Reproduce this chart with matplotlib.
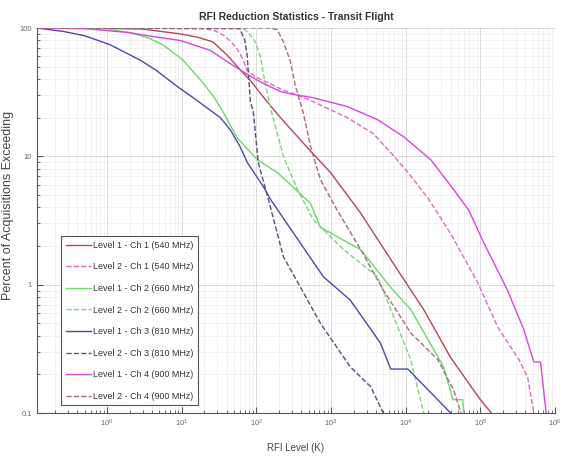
import numpy as np
import matplotlib.pyplot as plt
from matplotlib.ticker import LogLocator, NullFormatter, FixedLocator

plt.rcParams['font.family'] = ['Liberation Sans', 'DejaVu Sans']

# RFI level (K) / percent exceeding
l1c1_x = [0.115, 1, 3, 9.5, 16, 26, 40, 61, 83, 130, 210, 530, 980, 2500, 7800, 17400,
          40000, 1.0e5, 1.4e5]
l1c1_y = [100, 99.5, 98, 90, 85, 78, 62, 47, 39, 28, 20, 11, 7.5, 3.6, 1.3, 0.64,
          0.27, 0.127, 0.1]

l2c1_x = [0.115, 20, 28, 36, 45, 55, 65, 75, 95, 113, 150, 210, 480, 1660, 3700, 6300,
          10700, 20000, 40000, 92000, 1.7e5, 3.3e5, 4.3e5, 5.2e5]
l2c1_y = [100, 99, 95, 88, 79, 69, 58, 47, 42, 40, 37, 33.5, 28, 20, 15, 10.7,
          7.5, 4.7, 2.5, 1.04, 0.47, 0.26, 0.19, 0.1]

l1c2_x = [0.115, 1, 2, 3.5, 5.6, 7.5, 10.5, 14, 19.5, 27, 36, 55, 75, 103, 190, 530, 720,
          2500, 6300, 11700, 32000, 43000, 58000, 60000]
l1c2_y = [100, 98.5, 92, 84, 74, 65, 56, 46, 37, 29, 22, 14, 11.5, 9.4, 7.5, 4.3, 2.8,
          1.87, 0.95, 0.64, 0.23, 0.127, 0.127, 0.1]

l2c2_x = [0.115, 65, 75, 97, 113, 130, 160, 230, 355, 580, 1480, 4200, 6300, 11700, 17400]
l2c2_y = [100, 99, 94, 78, 60, 38, 22, 10, 5.5, 3.2, 1.87, 1.15, 0.64, 0.26, 0.1]

l1c3_x = [0.115, 0.26, 0.5, 1.1, 2.8, 4.5, 8.7, 15, 33, 45, 60, 76, 100, 124, 155, 790,
          1800, 4600, 6300, 10700, 21700, 40000]
l1c3_y = [100, 94, 87, 74, 56, 47, 35, 28, 20, 16, 12, 8.9, 7, 5.8, 4.6, 1.15,
          0.76, 0.35, 0.22, 0.22, 0.144, 0.1]

l2c3_x = [0.115, 60, 70, 75, 83, 91, 106, 145, 230, 425, 720, 1800, 3400, 5000]
l2c3_y = [100, 99, 80, 62, 27, 22, 8.9, 4.6, 1.65, 0.87, 0.5, 0.23, 0.16, 0.1]

l1c4_x = [0.115, 0.5, 2, 4, 9.5, 24, 40, 61, 90, 124, 210, 300, 580, 1660, 4200, 9400,
          21700, 44000, 70000, 1.12e5, 2.3e5, 3.8e5, 5.2e5, 6.4e5, 7.6e5]
l1c4_y = [100, 99, 92, 86, 80, 67, 55, 47, 41, 37, 32, 30.5, 28.6, 24.4, 19.3, 14.2,
          9.4, 5.5, 3.8, 2.1, 0.91, 0.45, 0.25, 0.25, 0.1]

l2c4_x = [0.115, 150, 190, 230, 285, 330, 425, 530, 720, 1150, 2500, 5000, 11700, 27000,
          44000, 55000]
l2c4_y = [100, 100, 97, 78, 55, 36, 21.8, 12, 6.6, 4.0, 1.87, 0.91, 0.42, 0.26,
          0.15, 0.1]

series = [
    (l1c1_x, l1c1_y, 'Level 1 - Ch 1 (540 MHz)', '#b8445a', '-'),
    (l2c1_x, l2c1_y, 'Level 2 - Ch 1 (540 MHz)', '#dc6cc0', '--'),
    (l1c2_x, l1c2_y, 'Level 1 - Ch 2 (660 MHz)', '#6ad86a', '-'),
    (l2c2_x, l2c2_y, 'Level 2 - Ch 2 (660 MHz)', '#78d878', '--'),
    (l1c3_x, l1c3_y, 'Level 1 - Ch 3 (810 MHz)', '#4a4aa8', '-'),
    (l2c3_x, l2c3_y, 'Level 2 - Ch 3 (810 MHz)', '#525278', '--'),
    (l1c4_x, l1c4_y, 'Level 1 - Ch 4 (900 MHz)', '#d845d8', '-'),
    (l2c4_x, l2c4_y, 'Level 2 - Ch 4 (900 MHz)', '#a86a80', '--'),
]

fig = plt.figure(figsize=(5.61, 4.62), dpi=100)
ax = fig.add_axes([37 / 561, 1 - 413 / 462, 518 / 561, 385 / 462])

for x, y, lab, col, ls in series:
    ax.plot(x, y, color=col, ls=ls, lw=1.0, label=lab)

ax.set_xscale('log')
ax.set_yscale('log')
ax.set_xlim(0.115, 1e6)
ax.set_ylim(0.1, 100)

ax.grid(True, which='major', color='#d4d4d4', lw=0.6)
ax.grid(True, which='minor', color='#ececec', lw=0.5)
ax.set_axisbelow(True)

for s in ['top', 'right']:
    ax.spines[s].set_visible(False)
for s in ['left', 'bottom']:
    ax.spines[s].set_color('#555555')
    ax.spines[s].set_linewidth(0.8)

ax.xaxis.set_major_locator(FixedLocator([1e0, 1e1, 1e2, 1e3, 1e4, 1e5, 1e6]))
ax.xaxis.set_minor_locator(LogLocator(base=10, subs=np.arange(2, 10)))
ax.xaxis.set_minor_formatter(NullFormatter())
ax.yaxis.set_major_locator(FixedLocator([0.1, 1, 10, 100]))
ax.set_yticklabels(['0.1', '1', '10', '100'])
ax.yaxis.set_minor_locator(LogLocator(base=10, subs=np.arange(2, 10)))
ax.yaxis.set_minor_formatter(NullFormatter())
ax.tick_params(which='both', direction='in', colors='#555555', labelsize=5.5, labelcolor='#666666')
ax.tick_params(which='major', length=4)
ax.tick_params(which='minor', length=2)

ax.set_title('RFI Reduction Statistics - Transit Flight', fontsize=7.5, fontweight='bold',
             color='#333333', pad=6)
ax.set_xlabel('RFI Level (K)', fontsize=7, color='#444444', labelpad=10)
ax.set_ylabel('Percent of Acquisitions Exceeding', fontsize=9, color='#444444')
ax.yaxis.set_label_coords(-0.045, 0.54)

leg = ax.legend(loc='lower left', bbox_to_anchor=(0.038, 0.008), fontsize=6.4,
                labelspacing=1.42, handlelength=2.9, handletextpad=0.2,
                borderpad=0.5, fancybox=False, framealpha=1)
leg.get_frame().set_edgecolor('#555555')
leg.get_frame().set_linewidth(0.8)
for t in leg.get_texts():
    t.set_color('#333333')

plt.savefig('out.png', dpi=100)
